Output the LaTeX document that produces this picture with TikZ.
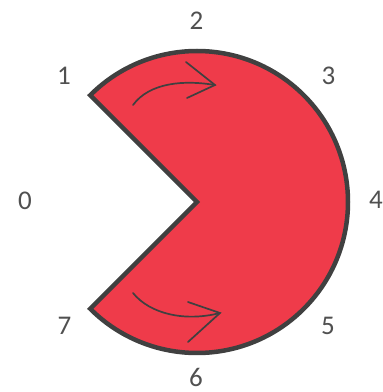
\documentclass[tikz,border=0pt]{standalone}
\usepackage{fontspec}
\setmainfont{Carlito}
\usepackage{xcolor}
\usepackage{tikz}
\definecolor{PRed}{HTML}{EF3B4A}
\definecolor{PGray}{HTML}{404040}
\definecolor{PText}{HTML}{505050}

\begin{document}
\begin{tikzpicture}[
  x=1pt,y=1pt,
  every node/.style={font=\fontsize{27}{30}\selectfont,text=PText,inner sep=0pt},
  pac/.style={draw=PGray,fill=PRed,line width=4.5pt,line join=miter},
  turn/.style={line width=1.7pt,line cap=round,line join=miter,color=PGray}
]
  \useasboundingbox (0,0) rectangle (383,392);
  \coordinate (c) at (197,190);
  \draw[pac] (c) -- ++(135:151) arc[start angle=135,end angle=-135,radius=151] -- cycle;
  % position labels
  \foreach \i/\x/\y in {0/25/191.5,1/64/316.5,2/196.5/371,3/328.5/316.5,
    4/376/192,5/328/66.5,6/196/14.5,7/64.5/66.5}
    {\node (p\i) at (\x,\y) {\i};}
  % turning arrows
  \draw[turn] (133,287) .. controls (150,310) and (185,312) .. (215,307);
  \draw[turn] (186,330) -- (215,307) -- (187,294);
  \draw[turn] (133,99) .. controls (150,78) and (185,70) .. (220,79);
  \draw[turn] (188,90) -- (220,79) -- (188,50);
\end{tikzpicture}
\end{document}
